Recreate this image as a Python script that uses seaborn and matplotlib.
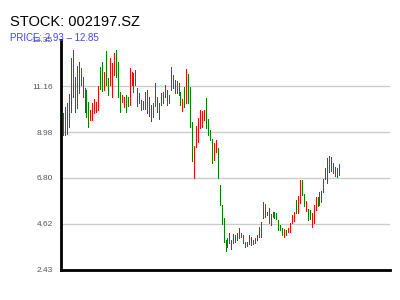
import matplotlib
matplotlib.use("Agg")
import matplotlib.pyplot as plt
import seaborn as sns
import pandas as pd
import numpy as np

title = "STOCK: 002197.SZ"
subtitle = "PRICE: 2.93 \u2013 12.85"
ytick_vals = [2.43, 4.62, 6.80, 8.98, 11.16, 13.35]
ytick_labels = ["2.43", "4.62", "6.80", "8.98", "11.16", "13.35"]

opens = [8.84, 8.84, 8.89, 9.24, 9.95, 12.88, 9.95, 10.11, 12.32, 12.00,
         10.66, 9.95, 10.98, 10.42, 9.55, 9.55, 9.87, 9.95, 10.03, 12.08,
         12.32, 10.98, 12.84, 11.53, 11.21, 10.66, 11.69, 12.88, 12.32, 10.90,
         10.42, 10.19, 10.74, 10.66, 10.26, 11.21, 10.90, 11.93, 11.06, 10.82,
         10.03, 10.06, 10.90, 10.98, 10.66, 10.26, 10.34, 10.22, 10.66, 9.58,
         10.85, 10.90, 11.21, 10.98, 10.34, 10.98, 11.69, 11.45, 11.42,
         11.32, 10.90, 10.00, 11.14, 10.34, 11.74, 11.14, 9.47, 6.80, 8.29,
         8.52, 9.16, 9.24, 9.55, 10.61, 9.58, 9.08, 8.65, 7.65, 8.05,
         8.21, 6.47, 5.52, 4.88, 3.85, 3.54, 3.73, 3.85, 3.73, 3.78,
         3.85, 3.93, 4.17, 4.09, 3.78, 3.57, 3.67, 4.01, 3.67, 3.70,
         3.85, 4.49, 4.01, 4.88, 5.56, 5.20, 5.36, 4.57, 4.96, 5.20,
         5.12, 4.80, 4.57, 4.41, 4.01, 4.33, 4.25, 4.25,
         4.65, 4.77, 5.75, 5.15, 5.60, 6.70, 6.04, 5.25, 5.31, 5.28,
         4.49, 4.65, 5.28, 5.88, 5.52, 5.67, 6.15, 7.26, 6.58, 7.10,
         7.81, 7.53, 6.89, 7.26, 6.94]
closes = [9.87, 10.15, 10.37, 10.79, 12.48, 10.66, 11.61, 12.12, 10.82, 11.21,
          11.61, 11.06, 9.71, 9.20, 10.03, 10.34, 10.53, 10.42, 11.17, 11.01,
          10.94, 11.85, 11.21, 10.74, 12.48, 12.24, 12.75, 11.61, 10.66, 9.95,
          10.74, 10.66, 9.95, 10.22, 12.00, 11.85, 11.77, 11.21, 10.22, 10.34,
          10.50, 10.47, 10.06, 9.87, 9.74, 9.52, 9.68, 11.32, 9.95, 10.34,
          10.26, 10.34, 10.66, 10.26, 10.74, 12.05, 11.06, 10.85, 10.85,
          10.74, 10.26, 10.53, 10.19, 11.97, 10.34, 9.24, 7.62, 8.32, 9.27,
          9.63, 10.03, 10.00, 10.03, 9.16, 8.84, 8.60, 7.49, 8.44, 8.60,
          6.80, 5.52, 4.61, 3.78, 3.35, 3.93, 4.17, 3.41, 4.14, 4.09,
          4.20, 4.41, 4.01, 3.73, 3.54, 3.78, 4.09, 3.62, 3.85, 3.93,
          4.09, 4.01, 4.73, 5.67, 4.96, 5.04, 4.65, 5.09, 5.20, 4.88,
          4.84, 4.33, 4.33, 4.09, 4.38, 4.09, 4.41, 4.68,
          5.04, 5.20, 5.15, 5.94, 6.70, 5.99, 5.47, 5.72, 4.80, 4.83,
          5.15, 5.52, 5.91, 5.47, 6.15, 6.20, 6.73, 6.73, 7.73, 7.84,
          7.15, 7.05, 7.30, 6.86, 7.46]

df = pd.DataFrame({"open": opens, "close": closes})
df["idx"] = np.arange(len(df))
df["low"] = df[["open", "close"]].min(axis=1)
df["high"] = df[["open", "close"]].max(axis=1)
df["dir"] = np.where(df["close"] >= df["open"], "up", "down")

sns.set_theme(style="white")
plt.rcParams["font.family"] = ["Liberation Sans", "DejaVu Sans"]

fig = plt.figure(figsize=(4, 3), dpi=100)
ax = fig.add_axes([0.1525, 0.1, 0.8225, 0.7667])

palette = {"up": "#ff0000", "down": "#008000"}
for d, sub in df.groupby("dir"):
    ax.vlines(sub["idx"], sub["low"], sub["high"], colors=palette[d],
              linewidth=0.72, antialiased=False)

ax.set_xlim(-1, 167)
ax.set_ylim(ytick_vals[0], ytick_vals[-1])
ax.set_yticks(ytick_vals)
ax.set_yticklabels(ytick_labels)
ax.set_xticks([])
ax.tick_params(axis="y", length=0, pad=6, labelsize=6, labelcolor="#555555")
ax.yaxis.grid(True, color="#cccccc", linewidth=1)
gl = ax.yaxis.get_gridlines()
gl[-1].set_visible(False)
ax.set_axisbelow(True)

sns.despine(ax=ax, top=True, right=True)
for s in ["left", "bottom"]:
    ax.spines[s].set_color("black")
    ax.spines[s].set_linewidth(2)

fig.text(10 / 400, 1 - 26 / 300, title, fontsize=10.5, color="black",
         ha="left", va="baseline")
fig.text(10 / 400, 1 - 41 / 300, subtitle, fontsize=7, color="#4444ff",
         ha="left", va="baseline")

fig.savefig("out.png", dpi=100)
